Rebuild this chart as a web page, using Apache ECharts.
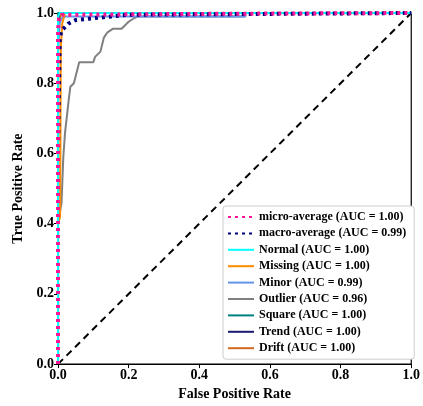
<!DOCTYPE html>
<html><head><meta charset="utf-8">
<script src="https://cdn.jsdelivr.net/npm/echarts@6/dist/echarts.min.js"></script>
<style>html,body{margin:0;padding:0;background:#fff}#c{width:423px;height:406px}</style>
</head><body><div id="c"></div>
<script>
const xTicks = [0, 0.2, 0.4, 0.6, 0.8, 1.0];
const yTicks = [0, 0.2, 0.4, 0.6, 0.8, 1.0];

const microFpr = [0, 0, 0.003, 0.01, 0.5, 1];
const microTpr = [0, 0.95, 0.985, 0.995, 0.998, 1];
const macroFpr = [0, 0, 0.005, 0.01, 0.02, 0.03, 0.05, 0.1, 0.15, 0.2, 0.53, 1];
const macroTpr = [0, 0.6, 0.93, 0.95, 0.96, 0.97, 0.98, 0.985, 0.99, 0.995, 0.997, 1];
const normalFpr = [0, 0, 0.005, 1];
const normalTpr = [0, 0.99, 1, 1];
const missingFpr = [0, 0, 0.006, 0.008, 0.012, 0.02, 1];
const missingTpr = [0, 0.4, 0.42, 0.9, 0.97, 1, 1];
const minorFpr = [0, 0, 0.005, 0.01, 0.02, 0.53, 0.53, 1];
const minorTpr = [0, 0.9, 0.97, 0.985, 0.99, 0.99, 1, 1];
const outlierFpr = [0, 0, 0.01, 0.015, 0.02, 0.03, 0.035, 0.045, 0.06, 0.1, 0.105, 0.12, 0.13, 0.14, 0.155, 0.18, 0.19, 0.2, 0.215, 0.225, 0.53, 0.53, 1];
const outlierTpr = [0, 0.4, 0.46, 0.59, 0.66, 0.75, 0.79, 0.8, 0.86, 0.86, 0.875, 0.89, 0.93, 0.945, 0.955, 0.955, 0.965, 0.975, 0.985, 0.99, 0.99, 1, 1];
const squareFpr = [0, 0, 1];
const squareTpr = [0, 1, 1];
const trendFpr = [0, 0, 0.003, 1];
const trendTpr = [0, 0.97, 1, 1];
const driftFpr = [0, 0, 0.003, 0.01, 1];
const driftTpr = [0, 0.9, 0.98, 1, 1];
const chanceFpr = [0, 1];
const chanceTpr = [0, 1];

const names = ['micro-average (AUC = 1.00)', 'macro-average (AUC = 0.99)', 'Normal (AUC = 1.00)', 'Missing (AUC = 1.00)', 'Minor (AUC = 0.99)', 'Outlier (AUC = 0.96)', 'Square (AUC = 1.00)', 'Trend (AUC = 1.00)', 'Drift (AUC = 1.00)'];
const colors = ['#FF1493', '#000080', '#00FFFF', '#FF8C00', '#6495ED', '#808080', '#008080', '#191970', '#D2691E'];
const curves = [[microFpr, microTpr], [macroFpr, macroTpr], [normalFpr, normalTpr], [missingFpr, missingTpr], [minorFpr, minorTpr], [outlierFpr, outlierTpr], [squareFpr, squareTpr], [trendFpr, trendTpr], [driftFpr, driftTpr]];

const font = '"Liberation Serif", "Times New Roman", serif';
const zip = (a, b) => a.map((v, i) => [v, b[i]]);

const series = curves.map((c, i) => ({
  name: names[i], type: 'line', data: zip(c[0], c[1]), symbol: 'none', animation: false,
  lineStyle: { color: colors[i], width: i < 2 ? 4 : 2, type: i < 2 ? [3, 4] : 'solid' },
  itemStyle: { color: colors[i] }, z: 10 - i
}));
series.push({ name: 'chance', type: 'line', data: zip(chanceFpr, chanceTpr), symbol: 'none', animation: false,
  lineStyle: { color: '#000', width: 2, type: [7, 5] }, z: 1 });

const chart = echarts.init(document.getElementById('c'), null, { renderer: 'canvas' });
chart.setOption({
  backgroundColor: '#fff',
  grid: { left: 58, right: 10, top: 13, bottom: 41, show: true, borderColor: '#000', borderWidth: 1.2, backgroundColor: 'transparent' },
  xAxis: { type: 'value', min: 0, max: 1, interval: 0.2,
    name: 'False Positive Rate', nameLocation: 'middle', nameGap: 22,
    nameTextStyle: { fontFamily: font, fontWeight: 'bold', fontSize: 14, color: '#000' },
    axisLine: { show: true, lineStyle: { color: '#000', width: 1.2 } },
    axisTick: { show: true, length: 4, lineStyle: { color: '#000' } },
    axisLabel: { fontFamily: font, fontWeight: 'bold', fontSize: 14, color: '#000', margin: 4, formatter: v => xTicks.includes(+v.toFixed(1)) ? v.toFixed(1) : '' },
    splitLine: { show: false } },
  yAxis: { type: 'value', min: 0, max: 1, interval: 0.2,
    name: 'True Positive Rate', nameLocation: 'middle', nameGap: 32,
    nameTextStyle: { fontFamily: font, fontWeight: 'bold', fontSize: 14, color: '#000' },
    axisLine: { show: true, lineStyle: { color: '#000', width: 1.2 } },
    axisTick: { show: true, length: 4, lineStyle: { color: '#000' } },
    axisLabel: { fontFamily: font, fontWeight: 'bold', fontSize: 14, color: '#000', margin: 4, formatter: v => yTicks.includes(+v.toFixed(1)) ? v.toFixed(1) : '' },
    splitLine: { show: false } },
  legend: { orient: 'vertical', left: 223, top: 206, data: names, itemWidth: 26, itemHeight: 10, itemGap: 4.4,
    padding: [5, 8, 5, 4], borderColor: '#ccc', borderWidth: 1, borderRadius: 3, backgroundColor: '#fff',
    itemStyle: { opacity: 0, borderWidth: 0 },
    textStyle: { fontFamily: font, fontWeight: 'bold', fontSize: 12, color: '#000' } },
  series
});
</script></body></html>
